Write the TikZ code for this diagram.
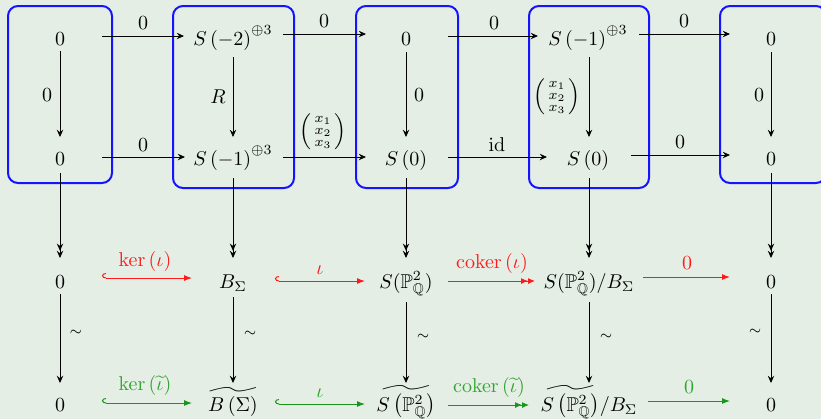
\documentclass[tikz,border=0pt]{standalone}
\usepackage{amsmath,amssymb}
\usetikzlibrary{arrows.meta,calc}
\definecolor{bgc}{RGB}{229,238,229}
\definecolor{bluebox}{RGB}{20,20,255}
\definecolor{redc}{RGB}{255,25,25}
\definecolor{greenc}{RGB}{25,150,25}
\definecolor{greenl}{RGB}{45,165,45}
\DeclareMathOperator{\coker}{coker}
\tikzset{
  obj/.style={anchor=base,inner sep=0pt},
  lab/.style={inner sep=0pt},
  bar/.style={-{Stealth[length=3.6pt,width=3.2pt,inset=1.2pt]},line width=0.45pt},
  epi/.style={-{Stealth[length=3.6pt,width=3.2pt,inset=1.2pt] Stealth[length=3.6pt,width=3.2pt,inset=1.2pt]},line width=0.45pt},
  rbar/.style={redc,-{Latex[length=4pt,width=3pt]},line width=0.5pt},
  rhook/.style={redc,{Hooks[right,length=2pt,width=5pt]}-{Latex[length=4pt,width=3pt]},line width=0.5pt},
  repi/.style={redc,-{Latex[length=3.5pt,width=3pt] Latex[length=3.5pt,width=3pt]},line width=0.5pt},
  gbar/.style={greenc,-{Latex[length=4pt,width=3pt]},line width=0.5pt},
  ghook/.style={greenc,{Hooks[right,length=2pt,width=5pt]}-{Latex[length=4pt,width=3pt]},line width=0.5pt},
  gepi/.style={greenc,-{Latex[length=3.5pt,width=3pt] Latex[length=3.5pt,width=3pt]},line width=0.5pt},
  frame/.style={draw=bluebox,line width=1pt,rounded corners=5pt},
}
\begin{document}
\begin{tikzpicture}[x=0.5pt,y=-0.5pt]
\fill[bgc] (0,0) rectangle (821,419);
\useasboundingbox (0,0) rectangle (821,419);
\clip (0,0) rectangle (821,419);
% blue frames
\draw[frame] (8,6) rectangle (112,183);
\draw[frame] (173,6) rectangle (294,188);
\draw[frame] (356,6) rectangle (458,188);
\draw[frame] (529,6) rectangle (649,188);
\draw[frame] (720,6) rectangle (826,183);
% row 1
\node[obj] (n11) at (60,45) {$0$};
\node[obj] (n12) at (233,45) {$S\left(-2\right)^{\oplus 3}$};
\node[obj] (n13) at (406,45) {$0$};
\node[obj] (n14) at (588,45) {$S\left(-1\right)^{\oplus 3}$};
\node[obj] (n15) at (771,45) {$0$};
% row 2
\node[obj] (n21) at (60,165) {$0$};
\node[obj] (n22) at (233,165) {$S\left(-1\right)^{\oplus 3}$};
\node[obj] (n23) at (406,165) {$S\left(0\right)$};
\node[obj] (n24) at (588,165) {$S\left(0\right)$};
\node[obj] (n25) at (771,165) {$0$};
% row 3
\node[obj] (n31) at (60,288) {$0$};
\node[obj] (n32) at (233,288) {$B_\Sigma$};
\node[obj] (n33) at (406,288) {$S(\mathbb{P}^2_{\mathbb{Q}})$};
\node[obj] (n34) at (589,288) {$S(\mathbb{P}^2_{\mathbb{Q}})/B_\Sigma$};
\node[obj] (n35) at (771,288) {$0$};
% row 4
\node[obj] (n41) at (60,411) {$0$};
\node[obj] (n42) at (233,411) {$\widetilde{B\left(\Sigma\right)}$};
\node[obj] (n43) at (406,411) {$\widetilde{S\left(\mathbb{P}^2_{\mathbb{Q}}\right)}$};
\node[obj] (n44) at (589,411) {$\widetilde{S\left(\mathbb{P}^2_{\mathbb{Q}}\right)}/B_\Sigma$};
\node[obj] (n45) at (771,411) {$0$};
% row 1 arrows
\draw[bar] ($(n11.base)+(42,-9)$) -- ($(n12.base)+(-49,-9)$);
\draw[bar] ($(n12.base)+(50,-11)$) -- ($(n13.base)+(-40,-11)$);
\draw[bar] ($(n13.base)+(42,-9)$) -- ($(n14.base)+(-50,-9)$);
\draw[bar] ($(n14.base)+(51,-11)$) -- ($(n15.base)+(-41,-11)$);
\node[lab] (l11) at (143,23) {$0$};
\node[lab] (l12) at (324,21) {$0$};
\node[lab] (l13) at (494,23) {$0$};
\node[lab] (l14) at (684,21) {$0$};
% row 2 arrows
\draw[bar] ($(n21.base)+(42,-8)$) -- ($(n22.base)+(-48,-8)$);
\draw[bar] ($(n22.base)+(50,-8)$) -- ($(n23.base)+(-40,-8)$);
\draw[bar] ($(n23.base)+(42,-8)$) -- ($(n24.base)+(-41,-8)$);
\draw[bar] ($(n24.base)+(43,-10)$) -- ($(n25.base)+(-41,-10)$);
\node[lab] (l21) at (143,145) {$0$};
\node[lab] (l22) at (323,132) {$\left(\begin{smallmatrix}x_1\\x_2\\x_3\end{smallmatrix}\right)$};
\node[lab] (l23) at (497,145) {$\mathrm{id}$};
\node[lab] (l24) at (680,142) {$0$};
% vertical 1->2
\draw[bar] ($(n11.base)+(0,6)$) -- ($(n21.base)+(0,-28)$);
\draw[bar] ($(n12.base)+(0,12)$) -- ($(n22.base)+(0,-28)$);
\draw[bar] ($(n13.base)+(0,7)$) -- ($(n23.base)+(0,-28)$);
\draw[bar] ($(n14.base)+(1,12)$) -- ($(n24.base)+(1,-28)$);
\draw[bar] ($(n15.base)+(0,7)$) -- ($(n25.base)+(0,-28)$);
\node[lab] (v1) at (47,95) {$0$};
\node[lab] (v2) at (218,97) {$R$};
\node[lab] (v3) at (419,95) {$0$};
\node[lab] (v4) at (557,97) {$\left(\begin{smallmatrix}x_1\\x_2\\x_3\end{smallmatrix}\right)$};
\node[lab] (v5) at (759,95) {$0$};
% vertical 2->3
\draw[epi] ($(n21.base)+(0,8)$) -- ($(n31.base)+(0,-30)$);
\draw[epi] ($(n22.base)+(0,13)$) -- ($(n32.base)+(0,-30)$);
\draw[epi] ($(n23.base)+(0,13)$) -- ($(n33.base)+(0,-30)$);
\draw[epi] ($(n24.base)+(1,13)$) -- ($(n34.base)+(0,-30)$);
\draw[epi] ($(n25.base)+(0,8)$) -- ($(n35.base)+(0,-30)$);
% row 3 arrows
\draw[rhook] ($(n31.base)+(42,-10)$) -- ($(n32.base)+(-41,-10)$);
\draw[rhook] ($(n32.base)+(42,-7)$) -- ($(n33.base)+(-41,-7)$);
\draw[repi] ($(n33.base)+(42,-7)$) -- ($(n34.base)+(-54,-7)$);
\draw[rbar] ($(n34.base)+(54,-11)$) -- ($(n35.base)+(-41,-11)$);
\node[lab,redc] (l31) at (145,261) {$\ker\left(\iota\right)$};
\node[lab,redc] (l32) at (320,270) {$\iota$};
\node[lab,redc] (l33) at (492,263) {$\coker\left(\iota\right)$};
\node[lab,redc] (l34) at (687,263) {$0$};
% vertical 3->4
\draw[bar] ($(n31.base)+(0,6)$) -- ($(n41.base)+(0,-28)$);
\draw[bar] ($(n32.base)+(0,9)$) -- ($(n42.base)+(0,-28)$);
\draw[bar] ($(n33.base)+(0,14)$) -- ($(n43.base)+(0,-28)$);
\draw[bar] ($(n34.base)+(0,14)$) -- ($(n44.base)+(0,-28)$);
\draw[bar] ($(n35.base)+(0,6)$) -- ($(n45.base)+(0,-28)$);
\node[lab] (w1) at (76,333) {$\scriptstyle\sim$};
\node[lab] (w2) at (250,334) {$\scriptstyle\sim$};
\node[lab] (w3) at (423,337) {$\scriptstyle\sim$};
\node[lab] (w4) at (606,337) {$\scriptstyle\sim$};
\node[lab] (w5) at (755,332) {$\scriptstyle\sim$};
% row 4 arrows
\draw[ghook] ($(n41.base)+(42,-8)$) -- ($(n42.base)+(-41,-8)$);
\draw[ghook] ($(n42.base)+(42,-7)$) -- ($(n43.base)+(-41,-7)$);
\draw[gepi] ($(n43.base)+(42,-6)$) -- ($(n44.base)+(-60,-6)$);
\draw[gbar] ($(n44.base)+(59,-10)$) -- ($(n45.base)+(-41,-10)$);
\node[lab,greenl] (l41) at (145,385) {$\ker\left(\widetilde{\iota}\right)$};
\node[lab,greenl] (l42) at (320,393) {$\iota$};
\node[lab,greenl] (l43) at (489,387) {$\coker\left(\widetilde{\iota}\right)$};
\node[lab,greenl] (l44) at (689,387) {$0$};
\end{tikzpicture}
\end{document}
